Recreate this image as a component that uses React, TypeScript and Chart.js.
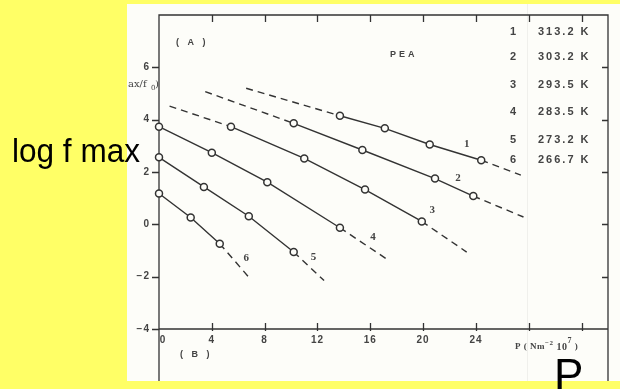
import React, { useEffect, useRef } from "react";
import { Chart, registerables } from "chart.js";

Chart.register(...registerables);

// Axis ticks
const pressureTicks = [0, 4, 8, 12, 16, 20, 24, 28, 32];
const logTicks = [-4, -2, 0, 2, 4, 6];

// Curve numbers and their temperatures
const curveNames = ["1", "2", "3", "4", "5", "6"];
const temperatures = ["313.2 K", "303.2 K", "293.5 K", "283.5 K", "273.2 K", "266.7 K"];

// Measured points: pressure P (Nm^-2 10^7) and log f_max
const p1 = [13.7, 17.1, 20.5, 24.4];
const f1 = [4.15, 3.67, 3.05, 2.45];
const p2 = [10.2, 15.4, 20.9, 23.8];
const f2 = [3.86, 2.84, 1.75, 1.08];
const p3 = [5.45, 11.0, 15.6, 19.9];
const f3 = [3.73, 2.52, 1.33, 0.11];
const p4 = [0, 4.0, 8.2, 13.7];
const f4 = [3.73, 2.74, 1.61, -0.13];
const p5 = [0, 3.4, 6.8, 10.2];
const f5 = [2.56, 1.43, 0.31, -1.06];
const p6 = [0, 2.4, 4.6];
const f6 = [1.18, 0.26, -0.74];

// Dashed extrapolations (start before first point, end after last point)
const leadP = [6.6, 3.5, 0.8, null, null, null];
const leadF = [5.2, 5.07, 4.52, null, null, null];
const tailP = [27.4, 27.6, 23.3, 17.4, 12.5, 6.8];
const tailF = [1.88, 0.28, -1.06, -1.38, -2.15, -2.02];

// Where each curve number sits (data units)
const labelP = [23.3, 22.65, 20.7, 16.2, 11.7, 6.6];
const labelF = [3.05, 1.76, 0.54, -0.49, -1.25, -1.3];

const allP = [p1, p2, p3, p4, p5, p6];
const allF = [f1, f2, f3, f4, f5, f6];

const INK = "#333333";
const PAPER = "#fdfdf9";
const YELLOW = "#ffff66";

function pts(ps: number[], fs: number[]) {
  return ps.map((p, i) => ({ x: p, y: fs[i] }));
}

export default function App() {
  const ref = useRef<HTMLCanvasElement | null>(null);

  useEffect(() => {
    const canvas = ref.current;
    if (!canvas) return;

    const solid: any[] = allP.map((ps, i) => ({
      label: "curve " + curveNames[i],
      data: pts(ps, allF[i]),
      borderColor: INK,
      borderWidth: 1.4,
      pointRadius: 3.5,
      pointBorderWidth: 1.5,
      pointBorderColor: INK,
      pointBackgroundColor: PAPER,
      tension: 0,
      clip: false,
    }));

    const dashed: any[] = [];
    allP.forEach((ps, i) => {
      const fs = allF[i];
      const lp = leadP[i];
      const lf = leadF[i];
      if (lp !== null && lf !== null) {
        dashed.push({
          label: "lead " + curveNames[i],
          data: [{ x: lp, y: lf }, { x: ps[0], y: fs[0] }],
          borderColor: INK,
          borderWidth: 1.4,
          borderDash: [7, 5],
          pointRadius: 0,
          clip: false,
        });
      }
      dashed.push({
        label: "tail " + curveNames[i],
        data: [{ x: ps[ps.length - 1], y: fs[fs.length - 1] }, { x: tailP[i], y: tailF[i] }],
        borderColor: INK,
        borderWidth: 1.4,
        borderDash: [7, 5],
        pointRadius: 0,
        clip: false,
      });
    });

    const paperPlugin = {
      id: "paper",
      beforeDraw(chart: any) {
        const { ctx, chartArea, scales } = chart;
        const xs = scales.x;
        const ys = scales.y;
        const { left, right, top, bottom } = chartArea;
        ctx.save();
        ctx.fillStyle = YELLOW;
        ctx.fillRect(0, 0, chart.width, chart.height);
        ctx.fillStyle = PAPER;
        ctx.fillRect(127, 4, chart.width - 127, 377);

        // faint fold in the paper
        ctx.strokeStyle = "rgba(0,0,0,0.05)";
        ctx.lineWidth = 1;
        ctx.beginPath();
        ctx.moveTo(527.5, 4);
        ctx.lineTo(527.5, 381);
        ctx.stroke();

        // frame
        ctx.strokeStyle = INK;
        ctx.lineWidth = 1.3;
        ctx.beginPath();
        ctx.moveTo(left, 381);
        ctx.lineTo(left, top);
        ctx.lineTo(right, top);
        ctx.lineTo(right, 381);
        ctx.moveTo(left, bottom);
        ctx.lineTo(right, bottom);
        ctx.stroke();

        // x ticks: inward at top and bottom
        ctx.lineWidth = 1.3;
        ctx.beginPath();
        pressureTicks.forEach((t) => {
          if (t === 0) return;
          const x = Math.round(xs.getPixelForValue(t)) + 0.5;
          ctx.moveTo(x, top);
          ctx.lineTo(x, top + 7);
          ctx.moveTo(x, bottom - 6);
          ctx.lineTo(x, bottom + 2);
        });
        // y ticks: outward on the left, inward on the right
        logTicks.forEach((t) => {
          const y = Math.round(ys.getPixelForValue(t)) + 0.5;
          ctx.moveTo(left - 7, y);
          ctx.lineTo(left, y);
          if (t !== -4) {
            ctx.moveTo(right - 6, y);
            ctx.lineTo(right, y);
          }
        });
        ctx.stroke();

        // tick labels
        ctx.fillStyle = "#444";
        ctx.font = "bold 10px 'Liberation Sans', Arial, sans-serif";
        ctx.textBaseline = "middle";
        (ctx as any).letterSpacing = "1px";
        ctx.textAlign = "center";
        pressureTicks.forEach((t) => {
          if (t > 24) return;
          const x = xs.getPixelForValue(t);
          ctx.fillText(String(t), t === 0 ? x + 4 : x, bottom + 11);
        });
        ctx.textAlign = "right";
        logTicks.forEach((t) => {
          const y = ys.getPixelForValue(t);
          ctx.fillText(t < 0 ? "\u2212" + Math.abs(t) : String(t), left - 9, y);
        });

        // panel tags
        ctx.font = "bold 9px 'Liberation Sans', Arial, sans-serif";
        (ctx as any).letterSpacing = "3px";
        ctx.textAlign = "left";
        ctx.fillText("( A )", 176, 43);
        ctx.fillText("( B )", 180, 355);
        ctx.fillText("PEA", 390, 55);

        // partial axis title at the page edge
        ctx.save();
        ctx.beginPath();
        ctx.rect(127, 60, 40, 40);
        ctx.clip();
        (ctx as any).letterSpacing = "0px";
        ctx.font = "10px 'DejaVu Serif', serif";
        ctx.textAlign = "left";
        ctx.fillText("ax/f", 128, 84);
        ctx.font = "7px 'DejaVu Serif', serif";
        ctx.fillText("0", 151, 88);
        ctx.font = "10px 'DejaVu Serif', serif";
        ctx.fillText(")", 155, 84);
        ctx.restore();

        // legend: curve number and temperature
        ctx.font = "bold 11px 'Liberation Sans', Arial, sans-serif";
        const rows = [32, 57, 85, 112, 140, 160];
        rows.forEach((y, i) => {
          (ctx as any).letterSpacing = "0px";
          ctx.textAlign = "center";
          ctx.fillText(curveNames[i], 513, y);
          (ctx as any).letterSpacing = "2px";
          ctx.textAlign = "left";
          ctx.fillText(temperatures[i], 538, y);
        });

        // x axis unit
        (ctx as any).letterSpacing = "0.5px";
        ctx.textAlign = "left";
        let cx = 515;
        const ay = 347;
        ctx.font = "bold 10px 'Liberation Serif', serif";
        const part = (s: string, font: string, dy: number) => {
          ctx.font = font;
          ctx.fillText(s, cx, ay + dy);
          cx += ctx.measureText(s).width;
        };
        part("P ( Nm", "bold 9px 'Liberation Serif', serif", 0);
        part("\u22122", "bold 7px 'Liberation Serif', serif", -4);
        part(" 10", "bold 10px 'Liberation Serif', serif", 0);
        part("7", "bold 8px 'Liberation Serif', serif", -6);
        part(" )", "bold 9px 'Liberation Serif', serif", 0);

        // curve numbers
        (ctx as any).letterSpacing = "0px";
        ctx.font = "bold 11px 'Liberation Serif', serif";
        ctx.textAlign = "center";
        ctx.fillStyle = "#444";
        curveNames.forEach((n, i) => {
          ctx.fillText(n, xs.getPixelForValue(labelP[i]), ys.getPixelForValue(labelF[i]));
        });
        ctx.restore();
      },
      afterDraw(chart: any) {
        const { ctx } = chart;
        ctx.save();
        ctx.fillStyle = "#000";
        ctx.textBaseline = "alphabetic";
        ctx.textAlign = "left";
        // big overlay labels
        ctx.font = "34px 'Liberation Sans', Arial, sans-serif";
        const label = "log f max";
        const w = ctx.measureText(label).width;
        const sx = 128 / w;
        ctx.save();
        ctx.translate(12, 162);
        ctx.scale(sx, 1);
        ctx.fillText(label, 0, 0);
        ctx.restore();
        ctx.font = "44px 'Liberation Sans', Arial, sans-serif";
        ctx.fillText("P", 554, 390);
        ctx.restore();
      },
    };

    const chart = new Chart(canvas, {
      type: "line",
      data: { datasets: [...solid, ...dashed] },
      options: {
        animation: false,
        responsive: false,
        maintainAspectRatio: false,
        layout: { padding: { left: 159, right: 12, top: 15, bottom: 60 } },
        plugins: { legend: { display: false }, tooltip: { enabled: false } },
        scales: {
          x: { type: "linear", min: 0, max: 34, display: false },
          y: { type: "linear", min: -4, max: 8, display: false },
        },
      },
      plugins: [paperPlugin],
    });

    return () => chart.destroy();
  }, []);

  return (
    <div style={{ position: "fixed", left: 0, top: 0, width: 620, height: 389 }}>
      <canvas ref={ref} width={620} height={389} style={{ display: "block" }} />
    </div>
  );
}
